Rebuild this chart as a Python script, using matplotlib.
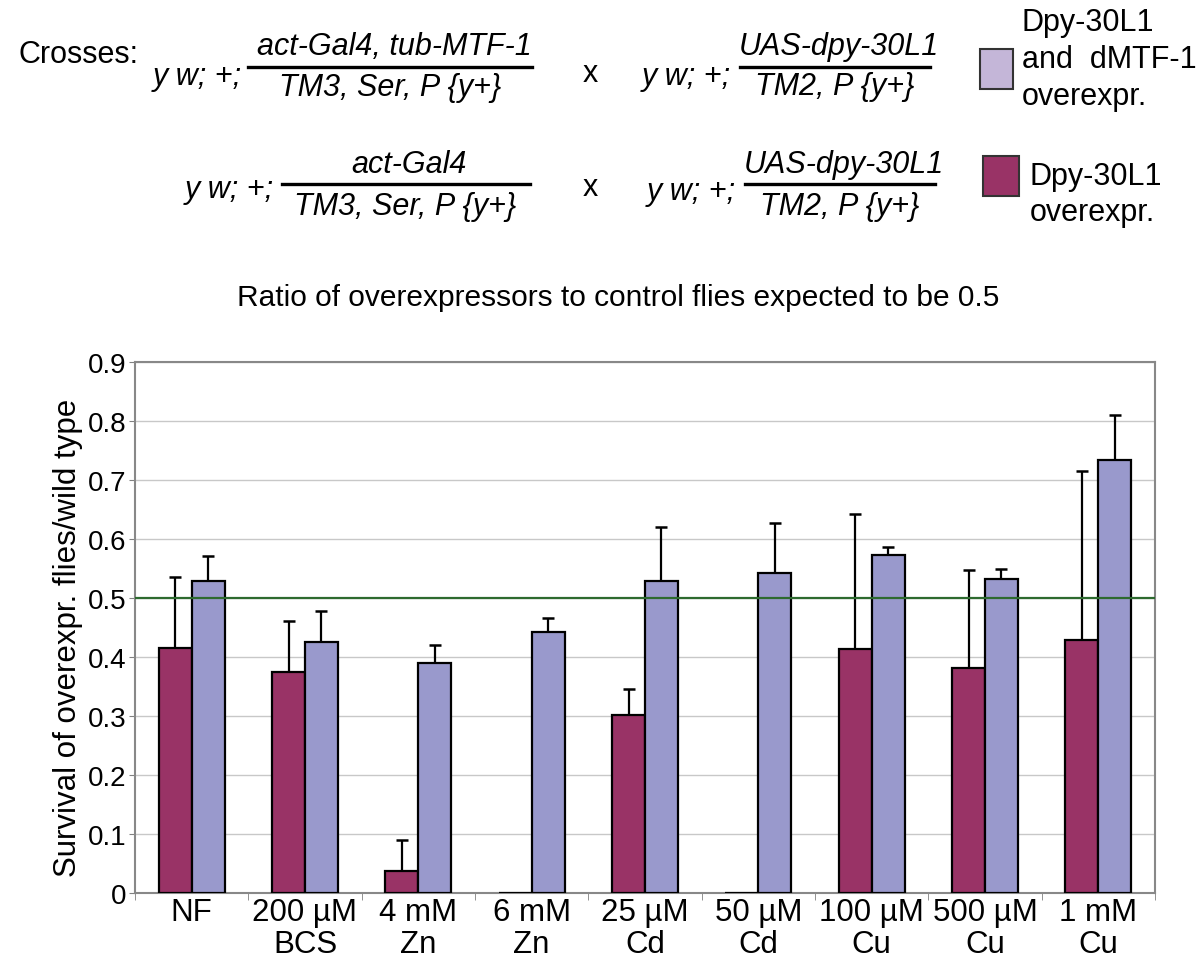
import matplotlib
matplotlib.use("Agg")
import matplotlib.pyplot as plt
from matplotlib.lines import Line2D
from matplotlib.patches import Rectangle
import numpy as np

plt.rcParams['font.family'] = ['Liberation Sans', 'DejaVu Sans']

# ---------------- data ----------------
categories = ["NF", "200 µM\nBCS", "4 mM\nZn", "6 mM\nZn", "25 µM\nCd",
              "50 µM\nCd", "100 µM\nCu", "500 µM\nCu", "1 mM\nCu"]
dpy_only = [0.416, 0.375, 0.037, 0.0, 0.301, 0.0, 0.413, 0.382, 0.428]
dpy_only_err = [0.119, 0.086, 0.053, 0.0, 0.045, 0.0, 0.229, 0.166, 0.288]
dpy_mtf = [0.529, 0.426, 0.390, 0.442, 0.528, 0.543, 0.573, 0.532, 0.734]
dpy_mtf_err = [0.043, 0.052, 0.030, 0.024, 0.092, 0.084, 0.014, 0.017, 0.076]
expected_ratio = 0.5
yticks = [0, 0.1, 0.2, 0.3, 0.4, 0.5, 0.6, 0.7, 0.8, 0.9]
ytick_labels = ["0", "0.1", "0.2", "0.3", "0.4", "0.5", "0.6", "0.7", "0.8", "0.9"]

legend_labels = ["Dpy-30L1\nand  dMTF-1\noverexpr.", "Dpy-30L1\noverexpr."]
title = "Ratio of overexpressors to control flies expected to be 0.5"
ylabel = "Survival of overexpr. flies/wild type"

# ---------------- style ----------------
C_DPY = "#993366"
C_MTF = "#9999CC"
C_MTF_LEG = "#C4B6D8"
C_GREEN = "#2D6A2F"
W, H = 1200, 962

fig = plt.figure(figsize=(W / 100, H / 100), dpi=100)


def fx(x):
    return x / W


def fy(y):
    return 1 - y / H


ax = fig.add_axes([fx(135), fy(894), fx(1155) - fx(135), fy(363) - fy(894)])

x = np.arange(len(categories))
bw = 0.29
ax.bar(x - bw / 2, dpy_only, bw, color=C_DPY, edgecolor="black", linewidth=1.6, zorder=3)
ax.bar(x + bw / 2, dpy_mtf, bw, color=C_MTF, edgecolor="black", linewidth=1.6, zorder=3)

# upward-only error bars
for xi, v, e in zip(x - bw / 2, dpy_only, dpy_only_err):
    if e > 0:
        ax.errorbar(xi, v, yerr=[[0], [e]], fmt="none", ecolor="black",
                    elinewidth=1.6, capsize=4, capthick=1.8, zorder=2)
for xi, v, e in zip(x + bw / 2, dpy_mtf, dpy_mtf_err):
    if e > 0:
        ax.errorbar(xi, v, yerr=[[0], [e]], fmt="none", ecolor="black",
                    elinewidth=1.6, capsize=4, capthick=1.8, zorder=2)

ax.axhline(expected_ratio, color=C_GREEN, linewidth=1.6, zorder=4)

ax.set_xlim(-0.5, len(categories) - 0.5)
ax.set_ylim(0, 0.9)
ax.set_yticks(yticks)
ax.set_yticklabels(ytick_labels, fontsize=20)
ax.set_xticks(x)
ax.set_xticklabels(categories, fontsize=22.5, linespacing=1.1)
ax.set_xticks(np.arange(len(categories) + 1) - 0.5, minor=True)
ax.tick_params(axis="x", which="major", length=0, pad=3)
ax.tick_params(axis="x", which="minor", length=5, color="#808080", direction="out")
ax.tick_params(axis="y", length=4, color="#808080", pad=2)
ax.yaxis.grid(True, color="#C8C8C8", linewidth=1.0, zorder=0)
ax.set_axisbelow(True)
for s in ax.spines.values():
    s.set_color("#888888")
    s.set_linewidth(1.5)

fig.text(fx(68), fy(638), ylabel, rotation=90, fontsize=22.5, ha="center", va="center")
fig.text(fx(618), fy(298), title, fontsize=21.5, ha="center", va="center")

# ---------------- crosses header ----------------
FS = 22
fig.text(fx(18), fy(55), "Crosses:", fontsize=FS, ha="left", va="center")


def cross(xl, yl, x0, x1, yline, num, den, ynum, yden, xc=None):
    fig.text(fx(xl), fy(yl), "y w; +;", fontsize=FS, style="italic", ha="left", va="center")
    fig.add_artist(Line2D([fx(x0), fx(x1)], [fy(yline), fy(yline)], color="black",
                          linewidth=2.4, transform=fig.transFigure))
    c = (x0 + x1) / 2 if xc is None else xc
    fig.text(fx(c + 4), fy(ynum), num, fontsize=FS, style="italic", ha="center", va="center")
    fig.text(fx(c), fy(yden), den, fontsize=FS, style="italic", ha="center", va="center")


cross(153, 77, 248, 532, 68, "act-Gal4, tub-MTF-1", "TM3, Ser, P {y+}", 47, 88)
cross(185, 190, 282, 530, 185, "act-Gal4", "TM3, Ser, P {y+}", 165, 207, xc=405)
fig.text(fx(590), fy(74), "x", fontsize=FS, ha="center", va="center")
fig.text(fx(590), fy(188), "x", fontsize=FS, ha="center", va="center")
cross(642, 77, 740, 930, 68, "UAS-dpy-30L1", "TM2, P {y+}", 47, 87)
cross(647, 192, 745, 935, 185, "UAS-dpy-30L1", "TM2, P {y+}", 165, 207)

# legend
fig.add_artist(Rectangle((fx(980), fy(90)), fx(33), fy(50) - fy(90), facecolor=C_MTF_LEG,
                         edgecolor="#333333", linewidth=1.5, transform=fig.transFigure))
fig.add_artist(Rectangle((fx(983), fy(197)), fx(36), fy(157) - fy(197), facecolor=C_DPY,
                         edgecolor="#333333", linewidth=1.5, transform=fig.transFigure))
fig.text(fx(1022), fy(60), legend_labels[0], fontsize=FS, ha="left", va="center",
         linespacing=1.3)
fig.text(fx(1030), fy(195), legend_labels[1], fontsize=FS, ha="left", va="center",
         linespacing=1.3)

fig.savefig("out.png", dpi=100, facecolor="white")
